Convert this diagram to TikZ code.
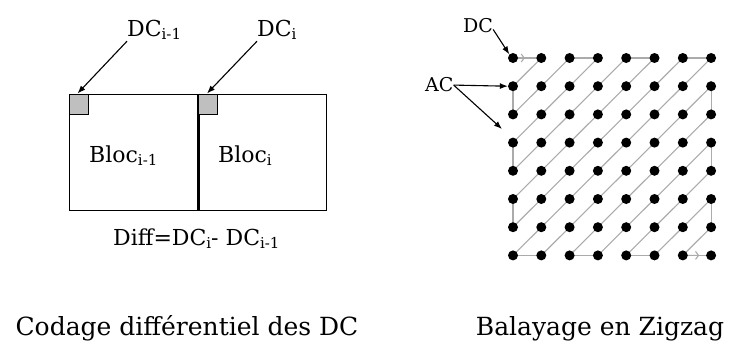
\documentclass[tikz,border=0pt]{standalone}
\usepackage{fontspec}
\setmainfont{DejaVu Serif}
\usetikzlibrary{arrows.meta,calc,backgrounds}
\newcommand\sbs[1]{\raisebox{-3pt}{\fontsize{15}{15}\selectfont #1}}
\begin{document}
\begin{tikzpicture}[x=1pt,y=-1pt,
  lbl/.style={inner sep=0pt, anchor=base west, font=\fontsize{22}{22}\selectfont},
  rlbl/.style={inner sep=0pt, anchor=base west, font=\fontsize{19}{19}\selectfont},
  captxt/.style={inner sep=0pt, anchor=base, font=\fontsize{25}{25}\selectfont},
  blocbox/.style={draw, line width=1pt, minimum width=129pt, minimum height=116pt, inner sep=0pt},
  dcsq/.style={draw, line width=1pt, fill=black!25, minimum width=19pt, minimum height=20pt, inner sep=0pt, anchor=north west},
  arr/.style={line width=1.1pt, -{Latex[length=8pt,width=6pt]}},
  dot/.style={circle, fill=black, inner sep=0pt, minimum size=10pt},
  gl/.style={draw=black!33, line width=1.1pt},
  barb/.style={gl, -{Straight Barb[length=3pt,width=8pt]}}
]
\useasboundingbox (0,0) rectangle (729,341);

% ---- left diagram ----
\node[blocbox] (b1) at (133.5,152) {};
\node[blocbox] (b2) at (262,152) {};
\draw[line width=2.4pt] (b1.north east) -- (b1.south east);
\node[dcsq] (s1) at (b1.north west) {};
\node[dcsq] (s2) at ([xshift=1pt]b2.north west) {};

\node[lbl] (l1) at (127,36) {DC\sbs{i-1}};
\node[lbl] (l2) at (257,36) {DC\sbs{i}};
\draw[arr] ([yshift=-2pt]l1.south west) -- ([xshift=-1pt]s1.north);
\draw[arr] ([yshift=-2pt]l2.south west) -- ([xshift=-1pt]s2.north);

\node[lbl] (bl1) at (89,162) {Bloc\sbs{i-1}};
\node[lbl] (bl2) at (218,162) {Bloc\sbs{i}};
\node[lbl] (diff) at (113,245) {Diff=DC\sbs{i}- DC\sbs{i-1}};

\node[captxt] (c1) at (187,335) {Codage différentiel des DC};
\node[captxt] (c2) at (600,335) {Balayage en Zigzag};

% ---- right diagram ----
\foreach \i in {0,...,7}{
  \foreach \j in {0,...,7}{
    \node[dot] (d-\i-\j) at ({513+28.3*\i},{58+28.2*\j}) {};
  }
}
\begin{scope}[on background layer]
  \foreach \k in {1,...,7}{
    \draw[gl] (d-\k-0.center) -- (d-0-\k.center);
  }
  \foreach \k in {1,...,6}{
    \draw[gl] (d-7-\k.center) -- (d-\k-7.center);
  }
  \draw[gl] (d-0-0.center) -- (d-1-0.center);
  \draw[barb] (d-0-0.center) -- ($(d-0-0)!0.42!(d-1-0)$);
  \draw[gl] (d-2-0.center) -- (d-3-0.center);
  \draw[gl] (d-4-0.center) -- (d-5-0.center);
  \draw[gl] (d-6-0.center) -- (d-7-0.center);
  \foreach \a/\b in {1/2,3/4,5/6}{
    \draw[gl] (d-0-\a.center) -- (d-0-\b.center);
    \draw[gl] (d-7-\a.center) -- (d-7-\b.center);
  }
  \draw[gl] (d-0-7.center) -- (d-1-7.center);
  \draw[gl] (d-2-7.center) -- (d-3-7.center);
  \draw[gl] (d-4-7.center) -- (d-5-7.center);
  \draw[gl] (d-6-7.center) -- (d-7-7.center);
  \draw[barb] (d-6-7.center) -- ($(d-6-7)!0.58!(d-7-7)$);
\end{scope}

\node[rlbl] (dc) at (463,32) {DC};
\node[rlbl] (ac) at (425,91) {AC};
\coordinate (acend) at (502,129);
\draw[arr] ([yshift=3pt]dc.south east) -- (d-0-0.north west);
\draw[arr] ([yshift=-1pt]ac.east) -- (d-0-1.west);
\draw[arr] ([yshift=-1pt]ac.east) -- (acend);
\end{tikzpicture}
\end{document}
